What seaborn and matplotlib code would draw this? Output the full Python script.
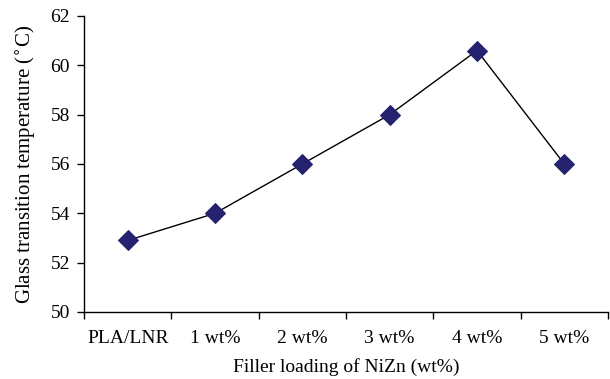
import pandas as pd
import seaborn as sns
import matplotlib.pyplot as plt
from matplotlib.ticker import FixedLocator, NullFormatter

# Datos
categorias = ['PLA/LNR', '1 wt%', '2 wt%', '3 wt%', '4 wt%', '5 wt%']
tg = [52.9, 54.0, 56.0, 58.0, 60.6, 56.0]

df = pd.DataFrame({'carga': categorias, 'tg': tg})
df['pos'] = range(len(categorias))

sns.set_style('ticks')
plt.rcParams['font.family'] = ['Liberation Serif', 'DejaVu Serif']

fig = plt.figure(figsize=(6.1, 3.79), dpi=100)
ax = fig.add_axes([0.1377, 0.1768, 0.859, 0.781])

sns.lineplot(data=df, x='pos', y='tg', ax=ax, color='black', linewidth=1.0,
             marker='D', markersize=10, markerfacecolor='#25236f',
             markeredgecolor='#25236f')

ax.set_xlim(-0.5, len(categorias) - 0.5)
ax.set_ylim(50, 62)
ax.set_yticks(range(50, 63, 2))
ax.xaxis.set_major_locator(FixedLocator([i - 0.5 for i in range(len(categorias) + 1)]))
ax.xaxis.set_major_formatter(NullFormatter())
ax.set_xticks(df['pos'], minor=True)
ax.set_xticklabels(categorias, minor=True)
ax.tick_params(axis='x', which='minor', length=0, pad=13, labelsize=14, labelcolor='black')
ax.tick_params(axis='x', which='major', length=5, width=1, direction='out', color='black')
ax.tick_params(axis='y', length=5, width=1, direction='out', labelsize=14,
               color='black', labelcolor='black', pad=5)

for s in ['left', 'bottom']:
    ax.spines[s].set_color('black')
    ax.spines[s].set_linewidth(1.0)
sns.despine(ax=ax)

ax.set_xlabel('Filler loading of NiZn (wt%)', fontsize=14, labelpad=8, color='black')
ax.set_ylabel('Glass transition temperature ($^{\\circ}$C)', fontsize=15, labelpad=9,
              color='black')

fig.savefig('out.png', dpi=100)
